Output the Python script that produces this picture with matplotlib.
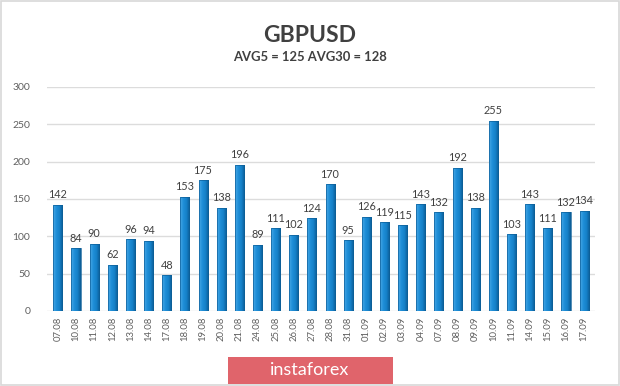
import numpy as np
import matplotlib
matplotlib.use('Agg')
from matplotlib import pyplot as plt
from matplotlib.patches import Rectangle
from matplotlib.colors import LinearSegmentedColormap

dates = ['07.08', '10.08', '11.08', '12.08', '13.08', '14.08', '17.08', '18.08',
         '19.08', '20.08', '21.08', '24.08', '25.08', '26.08', '27.08', '28.08',
         '31.08', '01.09', '02.09', '03.09', '04.09', '07.09', '08.09', '09.09',
         '10.09', '11.09', '14.09', '15.09', '16.09', '17.09']
values = [142, 84, 90, 62, 96, 94, 48, 153, 175, 138, 196, 89, 111, 102, 124,
          170, 95, 126, 119, 115, 143, 132, 192, 138, 255, 103, 143, 111, 132, 134]
yticks = [0, 50, 100, 150, 200, 250, 300]

plt.rcParams['font.family'] = ['Lato', 'DejaVu Sans']

fig = plt.figure(figsize=(6.2, 3.86), dpi=100)
fig.patch.set_facecolor('white')

# light frame round the picture
fig.add_artist(Rectangle((0.002, 0.003), 0.996, 0.994, transform=fig.transFigure,
                         fill=False, edgecolor='#d8d8d8', lw=1.2))

ax = fig.add_axes([47/620, 75/386, 548/620, 224/386])
x = np.arange(len(values))
bars = ax.bar(x, values, width=0.5, color='none', edgecolor='#0d5f98',
              linewidth=0.5, zorder=4)

# shaded fill for each bar, light on the left, dark on the right
cmap = LinearSegmentedColormap.from_list('bar', ['#4aa8e6', '#1f8fd8', '#1580c8', '#0b5a92'])
grad = np.linspace(0, 1, 64).reshape(1, -1)
for b in bars:
    x0, w, h = b.get_x(), b.get_width(), b.get_height()
    im = ax.imshow(grad, cmap=cmap, aspect='auto', extent=(x0, x0 + w, 0, h),
                   zorder=3)
    im.set_clip_path(b)

for xi, v in zip(x, values):
    ax.text(xi, v + 6, str(v), ha='center', va='bottom', fontsize=7.8,
            color='#404040')

ax.set_ylim(0, 300)
ax.set_xlim(-0.6, len(values) - 0.4)
ax.set_yticks(yticks)
ax.set_xticks(x)
ax.set_xticklabels(dates, rotation=90, fontsize=6.8, color='#606060')
ax.tick_params(axis='y', labelsize=7.5, colors='#606060', length=0, pad=12)
ax.tick_params(axis='x', length=0, pad=4)
ax.yaxis.grid(True, color='#dcdcdc', lw=1, zorder=0)
for s in ax.spines.values():
    s.set_visible(False)

fig.text(0.5, 1 - 35/386, 'GBPUSD', ha='center', va='center', fontsize=16.5,
         fontweight='bold', color='#404040')
fig.text(0.5, 1 - 57/386, 'AVG5 = 125 AVG30 = 128', ha='center', va='center',
         fontsize=9.4, fontweight='bold', color='#404040')

# logo plate
fig.add_artist(Rectangle((228/620, 2/386), 165/620, 27/386, transform=fig.transFigure,
                         facecolor='#e0646b', edgecolor='none'))
fig.text(310/620, 16/386, 'instaforex', ha='center', va='center', fontsize=13,
         color='white')

fig.savefig('out.png', dpi=100)
